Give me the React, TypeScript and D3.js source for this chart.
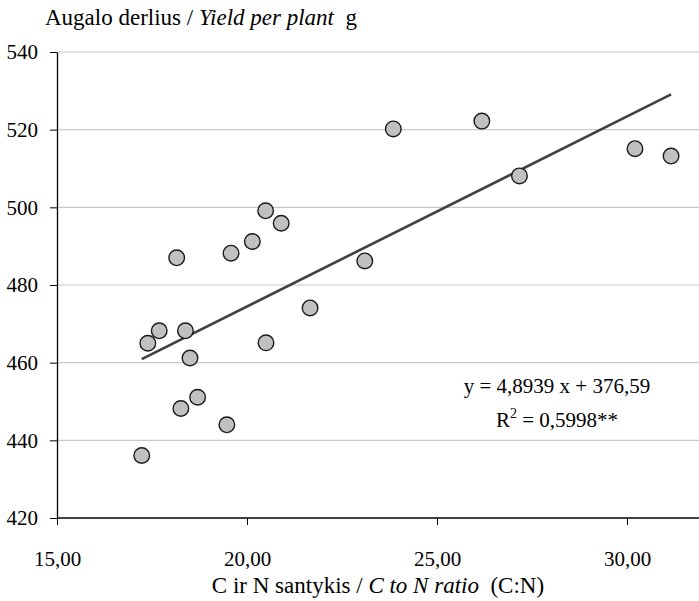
import React, { useEffect, useRef } from "react";
import * as d3 from "d3";

const cnRatio = [
  17.23, 17.39, 17.69, 18.15, 18.26, 18.38, 18.5, 18.7, 19.47, 19.58, 20.14,
  20.49, 20.5, 20.9, 21.66, 23.1, 23.85, 26.18, 27.17, 30.21, 31.16,
];
const yieldPerPlant = [
  436.1, 465.0, 468.2, 487.0, 448.2, 468.2, 461.2, 451.1, 444.0, 488.2, 491.2,
  499.1, 465.1, 495.9, 474.1, 486.2, 520.2, 522.2, 508.1, 515.1, 513.2,
];
const xTicks = [15, 20, 25, 30];
const yTicks = [420, 440, 460, 480, 500, 520, 540];
const slope = 4.8939;
const intercept = 376.59;
const equationText = "y = 4,8939 x + 376,59";
const r2Value = " = 0,5998**";

const W = 699;
const H = 601;
const FONT = "'Liberation Serif', 'Times New Roman', serif";

const App = () => {
  const svgRef = useRef<SVGSVGElement | null>(null);

  useEffect(() => {
    const margin = { top: 52, left: 57, bottom: 83 };
    const x = d3.scaleLinear().domain([15, 32]).range([margin.left, margin.left + 17 * 38]);
    const y = d3.scaleLinear().domain([420, 540]).range([H - margin.bottom, margin.top]);

    const svg = d3.select(svgRef.current);
    svg.selectAll("*").remove();

    // gridlines
    svg
      .append("g")
      .selectAll("line")
      .data(yTicks.filter(t => t !== 420))
      .join("line")
      .attr("x1", x(15))
      .attr("x2", W)
      .attr("y1", d => y(d))
      .attr("y2", d => y(d))
      .attr("stroke", "#c8c8c8")
      .attr("stroke-width", 1.2);

    const fmt = (d: number) => d3.format(".2f")(d).replace(".", ",");

    const xAxis = svg
      .append("g")
      .attr("transform", `translate(0,${y(420)})`)
      .call(d3.axisBottom(x).tickValues(xTicks).tickSize(7).tickSizeOuter(0).tickFormat(d => fmt(d as number)));
    xAxis.select(".domain").attr("d", `M${x(15)},0H${W}`).attr("stroke", "#000").attr("stroke-width", 1.3);
    xAxis.selectAll(".tick line").attr("stroke", "#000");
    xAxis
      .selectAll(".tick text")
      .attr("y", 0)
      .attr("dy", 48)
      .attr("font-family", FONT)
      .attr("font-size", 21)
      .attr("fill", "#000");

    const yAxis = svg
      .append("g")
      .attr("transform", `translate(${x(15)},0)`)
      .call(d3.axisLeft(y).tickValues(yTicks).tickSize(7).tickSizeOuter(0).tickFormat(d => String(d)));
    yAxis.select(".domain").attr("stroke", "#000").attr("stroke-width", 1.3);
    yAxis.selectAll(".tick line").attr("stroke", "#000");
    yAxis
      .selectAll(".tick text")
      .attr("x", -19)
      .attr("font-family", FONT)
      .attr("font-size", 21)
      .attr("fill", "#000");

    // trendline
    const [xmin, xmax] = d3.extent(cnRatio) as [number, number];
    const line = d3
      .line<number>()
      .x(d => x(d))
      .y(d => y(slope * d + intercept));
    svg
      .append("path")
      .datum([xmin, xmax])
      .attr("fill", "none")
      .attr("stroke", "#404040")
      .attr("stroke-width", 2.6)
      .attr("d", line);

    // points
    svg
      .append("g")
      .selectAll("circle")
      .data(cnRatio.map((c, i) => [c, yieldPerPlant[i]]))
      .join("circle")
      .attr("cx", d => x(d[0]))
      .attr("cy", d => y(d[1]))
      .attr("r", 7.8)
      .attr("fill", "#c0c0c0")
      .attr("stroke", "#1a1a1a")
      .attr("stroke-width", 1.4);

    // equation
    const eq = svg.append("g").attr("font-family", FONT).attr("font-size", 21).attr("fill", "#000").attr("text-anchor", "middle");
    eq.append("text").attr("x", 557).attr("y", 393).text(equationText);
    const r2 = eq.append("text").attr("x", 557).attr("y", 427);
    r2.append("tspan").text("R");
    r2.append("tspan").attr("font-size", 14).attr("dy", -9).text("2");
    r2.append("tspan").attr("dy", 9).text(r2Value);

    // axis titles
    const yt = svg.append("text").attr("x", 45).attr("y", 25).attr("font-family", FONT).attr("font-size", 23).attr("fill", "#000");
    yt.append("tspan").text("Augalo derlius / ");
    yt.append("tspan").attr("font-style", "italic").text("Yield per plant");
    yt.append("tspan").text("\u00a0 g");

    const xt = svg
      .append("text")
      .attr("x", (x(15) + W) / 2)
      .attr("y", 593)
      .attr("text-anchor", "middle")
      .attr("font-family", FONT)
      .attr("font-size", 23)
      .attr("fill", "#000");
    xt.append("tspan").text("C ir N santykis / ");
    xt.append("tspan").attr("font-style", "italic").text("C to N ratio");
    xt.append("tspan").text("\u00a0 (C:N)");
  }, []);

  return (
    <svg
      ref={svgRef}
      width={W}
      height={H}
      style={{ position: "absolute", left: 0, top: 0, background: "#fff" }}
    />
  );
};

export default App;
